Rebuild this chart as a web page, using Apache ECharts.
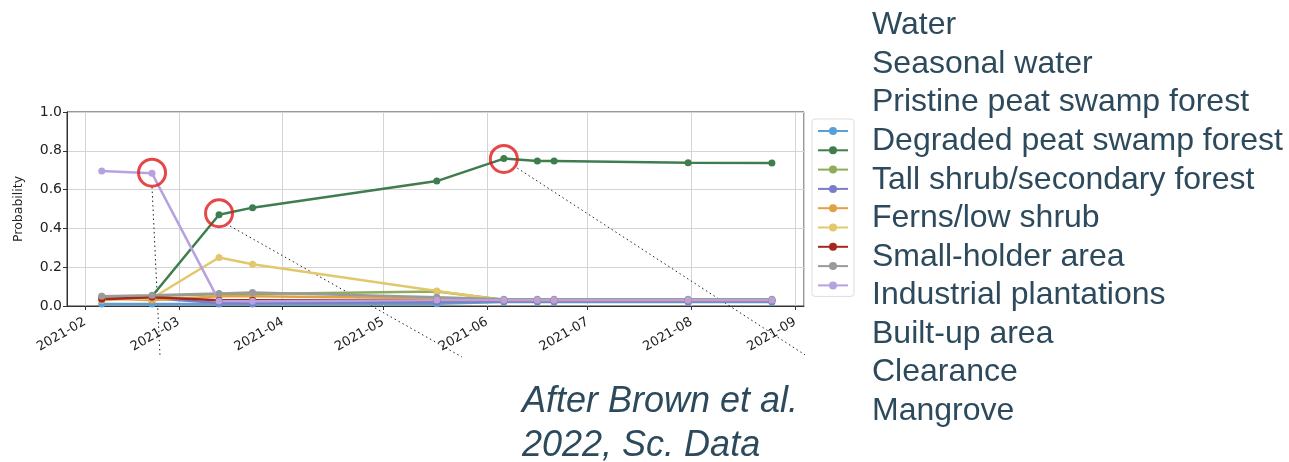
<!DOCTYPE html>
<html>
<head>
<meta charset="utf-8">
<script src="https://cdn.jsdelivr.net/npm/echarts@6/dist/echarts.min.js"></script>
<style>
html,body{margin:0;padding:0;background:#fff;}
#chart{width:1289px;height:462px;}
</style>
</head>
<body>
<div id="chart"></div>
<script>
// ---- data ----
const dates = ['2021-02-06','2021-02-21','2021-03-13','2021-03-23','2021-05-17','2021-06-06','2021-06-16','2021-06-21','2021-07-31','2021-08-25'];
const seriesNames = ['Water','Degraded peat swamp forest','Tall shrub/secondary forest','Pristine peat swamp forest','Ferns/low shrub','Clearance','Small-holder area','Built-up area','Industrial plantations'];
const seriesColors = ['#5a9fd6','#3e7d4e','#8dac5c','#7b7ec6','#e0a244','#e2c86a','#a8261f','#9a9a9a','#b7a1e0'];
const water      = [0.010,0.010,0.010,0.010,0.012,0.020,0.020,0.020,0.020,0.020];
const degraded   = [0.040,0.050,0.470,0.507,0.644,0.760,0.748,0.748,0.739,0.737];
const tallShrub  = [0.050,0.052,0.060,0.062,0.075,0.032,0.032,0.032,0.032,0.032];
const pristine   = [0.040,0.040,0.015,0.015,0.020,0.025,0.025,0.025,0.025,0.025];
const ferns      = [0.040,0.030,0.050,0.050,0.040,0.030,0.030,0.030,0.030,0.030];
const clearance  = [0.030,0.040,0.250,0.215,0.077,0.030,0.030,0.030,0.030,0.030];
const smallholder= [0.035,0.045,0.030,0.030,0.030,0.030,0.030,0.030,0.030,0.030];
const builtUp    = [0.050,0.055,0.065,0.070,0.045,0.035,0.035,0.035,0.035,0.035];
const industrial = [0.696,0.684,0.026,0.025,0.030,0.030,0.030,0.030,0.030,0.030];
const allValues = [water,degraded,tallShrub,pristine,ferns,clearance,smallholder,builtUp,industrial];

// change points (red circles)
const circleDates  = ['2021-02-21','2021-03-13','2021-06-06'];
const circleValues = [0.687,0.478,0.758];
// dotted annotation lines: [startDate,startValue,endDate,endValue]
const pointerLines = [
  ['2021-02-21 00:00',0.613,'2021-02-23 10:00',-0.268],
  ['2021-03-16 07:00',0.412,'2021-05-24 12:00',-0.263],
  ['2021-06-10 00:00',0.711,'2021-09-04 10:00',-0.258]
];
const yTicks = [0,0.2,0.4,0.6,0.8,1.0];
const sideLabels = ['Water','Seasonal water','Pristine peat swamp forest','Degraded peat swamp forest','Tall shrub/secondary forest','Ferns/low shrub','Small-holder area','Industrial plantations','Built-up area','Clearance','Mangrove'];
const citation = ['After Brown et al.','2022, Sc. Data'];

// ---- chart ----
const chart = echarts.init(document.getElementById('chart'));
const series = seriesNames.map((n,i)=>({
  name:n, type:'line', data:dates.map((d,j)=>[d,allValues[i][j]]),
  symbol:'circle', symbolSize:7, showSymbol:true,
  lineStyle:{width:2.5,color:seriesColors[i]},
  itemStyle:{color:seriesColors[i]},
  emphasis:{disabled:true}, animation:false, z:2
}));
pointerLines.forEach(p=>{
  series.push({type:'line', data:[[p[0],p[1]],[p[2],p[3]]], clip:false, showSymbol:false,
    lineStyle:{color:'#222',width:1,type:[1.5,3]}, silent:true, animation:false, z:1});
});
series.push({type:'scatter', data:circleDates.map((d,i)=>[d,circleValues[i]]), symbol:'circle', symbolSize:27,
  itemStyle:{color:'rgba(0,0,0,0)',borderColor:'#e0191b',borderWidth:3}, silent:true, animation:false, z:5});

const graphics = [];
sideLabels.forEach((t,i)=>{
  graphics.push({type:'text', left:872, top:9.5+i*38.55, style:{text:t, font:'32px "Liberation Sans", Arial, sans-serif', fill:'#2d4a5c'}});
});
citation.forEach((t,i)=>{
  graphics.push({type:'text', left:522, top:384+i*43.5, style:{text:t, font:'italic 36px "Liberation Sans", Arial, sans-serif', fill:'#2d4a5c'}});
});

chart.setOption({
  animation:false,
  backgroundColor:'#fff',
  grid:{left:67,right:485,top:112,bottom:156,show:true,borderColor:'#333',borderWidth:1,backgroundColor:'transparent'},
  xAxis:{type:'time', min:'2021-01-26 15:00', max:'2021-09-03 14:00', splitNumber:8,
    minInterval:28*86400000, maxInterval:31*86400000,
    axisLine:{show:true,lineStyle:{color:'#333'}}, axisTick:{show:true,length:4,lineStyle:{color:'#333'}},
    splitLine:{show:true,lineStyle:{color:'#d4d4d4',width:1}},
    axisLabel:{rotate:30, formatter:'{yyyy}-{MM}', fontFamily:'DejaVu Sans', fontSize:13, color:'#222', margin:15, hideOverlap:false}},
  yAxis:{type:'value', min:yTicks[0], max:yTicks[yTicks.length-1], interval:0.2,
    name:'Probability', nameLocation:'middle', nameGap:42, nameTextStyle:{fontFamily:'DejaVu Sans',fontSize:12.5,color:'#222'},
    axisLine:{show:true,lineStyle:{color:'#333'}}, axisTick:{show:true,length:4,lineStyle:{color:'#333'}},
    splitLine:{show:true,lineStyle:{color:'#d4d4d4',width:1}},
    axisLabel:{formatter:v=>v.toFixed(1), fontFamily:'DejaVu Sans', fontSize:14, color:'#222', margin:5}},
  legend:{data:seriesNames, orient:'vertical', left:812, top:119, itemWidth:30, itemHeight:10, itemGap:10.3,
    formatter:()=>'', textStyle:{fontSize:1,padding:0}, backgroundColor:'#fff', borderColor:'#ddd', borderWidth:1, borderRadius:3,
    padding:[7,5,7,5], selectedMode:false},
  series:series,
  graphic:graphics
});
</script>
</body>
</html>
